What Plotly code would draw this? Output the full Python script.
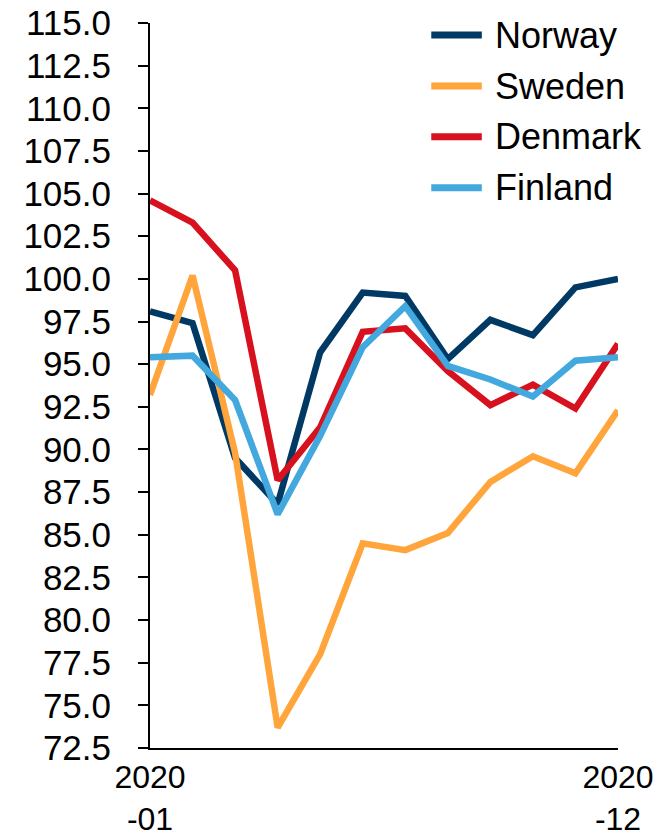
import plotly.graph_objects as go

months = ["2020-01", "2020-02", "2020-03", "2020-04", "2020-05", "2020-06",
          "2020-07", "2020-08", "2020-09", "2020-10", "2020-11", "2020-12"]
norway = [98.1, 97.4, 89.5, 86.8, 95.7, 99.2, 99.0, 95.3, 97.6, 96.7, 99.5, 100.0]
sweden = [93.2, 100.2, 89.8, 73.7, 78.0, 84.5, 84.1, 85.1, 88.1, 89.6, 88.6, 92.3]
denmark = [104.6, 103.3, 100.5, 88.2, 91.3, 96.9, 97.1, 94.6, 92.6, 93.8, 92.4, 96.2]
finland = [95.4, 95.5, 92.9, 86.2, 90.8, 96.0, 98.4, 94.9, 94.1, 93.1, 95.2, 95.4]

series_names = ["Norway", "Sweden", "Denmark", "Finland"]
series_values = [norway, sweden, denmark, finland]
colors = ["#003A64", "#FFA53C", "#D7111E", "#42A8DE"]

x_tickvals = ["2020-01", "2020-12"]
x_ticktext = ["2020<br>-01", "2020<br>-12"]

FONT = "Liberation Sans, Arial, sans-serif"

fig = go.Figure()
for name, vals, col in zip(series_names, series_values, colors):
    fig.add_trace(go.Scatter(x=months, y=vals, mode="lines", name=name,
                             line=dict(color=col, width=6.5), showlegend=False))

# custom legend
legend_y = [0.9834, 0.9131, 0.8431, 0.7727]
for name, col, ly in zip(series_names, colors, legend_y):
    fig.add_shape(type="line", xref="paper", yref="paper",
                  x0=0.601, x1=0.709, y0=ly, y1=ly,
                  line=dict(color=col, width=7))
    fig.add_annotation(xref="paper", yref="paper", x=0.733, y=ly,
                       text=name, showarrow=False, xanchor="left", yanchor="middle",
                       font=dict(family=FONT, size=36, color="#000000"))

fig.update_layout(
    width=665, height=835,
    margin=dict(l=142, r=55, t=15, b=95),
    paper_bgcolor="white", plot_bgcolor="white",
    font=dict(family=FONT, size=35, color="#000000"),
    showlegend=False,
)
fig.update_xaxes(
    type="category", range=[0, 11], automargin=False,
    tickvals=x_tickvals, ticktext=x_ticktext, ticklabeloverflow="allow",
    showgrid=False, showline=True, linecolor="#000000", linewidth=2,
    ticks="", zeroline=False, ticklabelstandoff=0,
    tickfont=dict(family=FONT, size=32, color="#000000"),
)
fig.update_yaxes(
    range=[72.5, 115], dtick=2.5, tick0=72.5, tickformat=".1f", automargin=False,
    ticklabeloverflow="allow",
    showgrid=False, showline=True, linecolor="#000000", linewidth=2,
    ticks="outside", ticklen=10, tickwidth=2, tickcolor="#000000",
    zeroline=False, ticklabelstandoff=20,
    tickfont=dict(family=FONT, size=35, color="#000000"),
)

fig.write_html("out.html")
